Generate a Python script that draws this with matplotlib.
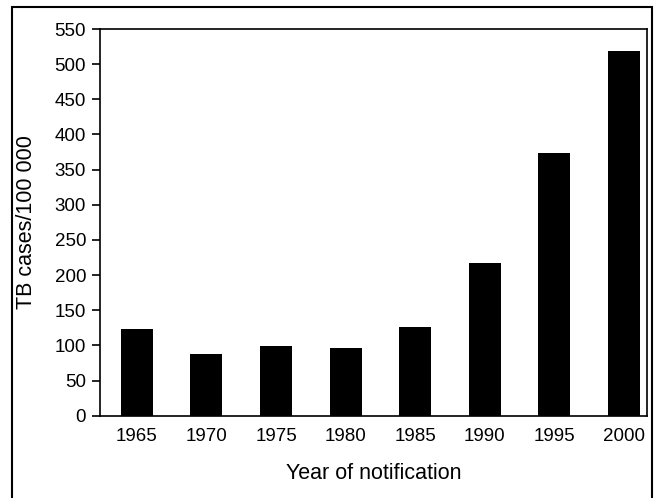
import numpy as np
import matplotlib.pyplot as plt
from matplotlib.patches import Rectangle

plt.rcParams['font.family'] = ['Liberation Sans', 'DejaVu Sans']

years = ['1965', '1970', '1975', '1980', '1985', '1990', '1995', '2000']
cases = [124, 88, 99, 97, 126, 217, 374, 519]

W, H = 659, 498
fig = plt.figure(figsize=(W / 100, H / 100), dpi=100)
ax = fig.add_axes([100 / W, 1 - 415.7 / H, 547 / W, (415.7 - 29) / H])

x = np.arange(len(years))
ax.bar(x, cases, width=0.46, color='black')

ax.set_xlim(-0.53, 7.33)
ax.set_ylim(0, 550)
ax.set_yticks(np.arange(0, 551, 50))
ax.set_xticks(x)
ax.set_xticklabels(years)
ax.tick_params(axis='y', direction='out', length=6, width=1.2, labelsize=13.5, pad=4)
ax.tick_params(axis='x', length=0, labelsize=13.5, pad=9)
for s in ax.spines.values():
    s.set_linewidth(1.2)

ax.set_xlabel('Year of notification', fontsize=15.5, labelpad=13)
ax.set_ylabel('TB cases/100 000', fontsize=15.5, labelpad=13)

# outer frame around the whole figure
fig.patches.append(Rectangle((12 / W, -0.05), (652 - 12) / W, 1.05 - 7 / H,
                             transform=fig.transFigure, fill=False,
                             edgecolor='black', linewidth=1.5))

fig.savefig('out.png', dpi=100)
